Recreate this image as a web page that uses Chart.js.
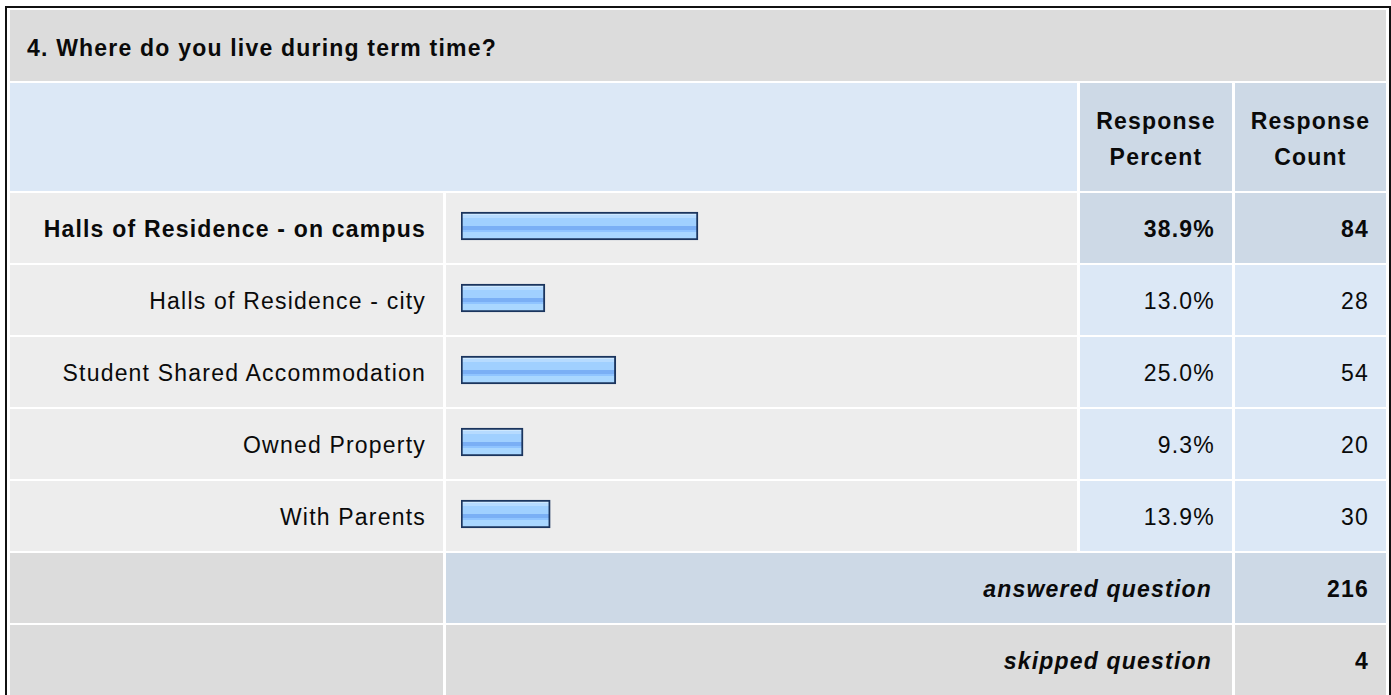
<!DOCTYPE html>
<html>
<head>
<meta charset="utf-8">
<script src="https://cdn.jsdelivr.net/npm/chart.js@4"></script>
<style>
  body { margin: 0; background: #fff; font-family: "Liberation Sans", Arial, sans-serif; }
  #wrap { position: absolute; left: 5px; top: 6px; border: 2px solid #111; border-bottom: none; background: #fff; }
  table { table-layout: fixed; border-collapse: separate; border-spacing: 3px 2px; width: 1382px; }
  td { padding: 0; font-size: 23px; letter-spacing: 1.2px; color: #0a0a0a; vertical-align: middle; white-space: nowrap; }
  .title { background: #dcdcdc; font-weight: bold; padding-left: 17px; padding-top: 25px; height: 46px; vertical-align: top; }
  .head { height: 108px; }
  .headL { background: #dce8f6; }
  .headR { background: #cdd9e6; font-weight: bold; text-align: center; line-height: 36px; padding-top: 4px; }
  tr.row td { height: 68px; padding-top: 2px; }
  .lab { background: #ededed; text-align: right; padding-right: 17px; }
  .bar { background: #ededed; }
  .num { background: #dce8f6; text-align: right; padding-right: 17px; }
  .hl .num { background: #cdd9e6; }
  .hl td { font-weight: bold; }
  .grey { background: #dcdcdc; }
  .sum { font-weight: bold; font-style: italic; text-align: right; padding-right: 20px; }
  .sumN { font-weight: bold; text-align: right; padding-right: 17px; }
  #chartBox { position: absolute; left: 446px; top: 190px; width: 631px; height: 360px; }
</style>
</head>
<body>
<div id="wrap">
  <table id="tbl">
    <colgroup><col style="width:433px"><col style="width:631px"><col style="width:152px"><col style="width:151px"></colgroup>
    <tbody id="body"></tbody>
  </table>
</div>
<div id="chartBox"><canvas id="barChart" width="631" height="360"></canvas></div>
<script>
// Datos de la encuesta
const question = '4. Where do you live during term time?';
const categories = ['Halls of Residence - on campus', 'Halls of Residence - city', 'Student Shared Accommodation', 'Owned Property', 'With Parents'];
const percents = [38.9, 13.0, 25.0, 9.3, 13.9];
const counts = [84, 28, 54, 20, 30];
const answeredCount = 216;
const skippedCount = 4;

// Tabla
var rows = '';
rows += '<tr><td class="title" colspan="4">' + question + '</td></tr>';
rows += '<tr class="head"><td class="headL" colspan="2"></td><td class="headR">Response<br>Percent</td><td class="headR">Response<br>Count</td></tr>';
categories.forEach(function(cat, i) {
    rows += '<tr class="row' + (i === 0 ? ' hl' : '') + '"><td class="lab">' + cat + '</td><td class="bar"></td>' +
        '<td class="num">' + percents[i].toFixed(1) + '%</td><td class="num">' + counts[i] + '</td></tr>';
});
rows += '<tr class="row"><td class="grey"></td><td class="sum" colspan="2" style="background:#cdd9e6">answered question</td><td class="sumN" style="background:#cdd9e6">' + answeredCount + '</td></tr>';
rows += '<tr class="row"><td class="grey"></td><td class="sum grey" colspan="2">skipped question</td><td class="sumN grey">' + skippedCount + '</td></tr>';
document.getElementById('body').innerHTML = rows;

// Relleno de las barras: bandas horizontales que se repiten cada fila (72px)
var pc = document.createElement('canvas');
pc.width = 1; pc.height = 72;
var pctx = pc.getContext('2d');
var bands = [[22, 3, '#cde8ff'], [25, 3, '#b6dbff'], [28, 8, '#a0d0ff'], [36, 4, '#7aaff5'], [40, 2, '#8fc4ff'], [42, 8, '#a9d7ff']];
bands.forEach(function(b) { pctx.fillStyle = b[2]; pctx.fillRect(0, b[0], 1, b[1]); });

var ctx = document.getElementById('barChart').getContext('2d');
var pattern = ctx.createPattern(pc, 'repeat');

var barChart = new Chart(ctx, {
    type: 'bar',
    data: {
        labels: categories,
        datasets: [{
            data: percents,
            base: -1.2,
            backgroundColor: pattern,
            borderColor: '#1b355e',
            borderWidth: 2,
            borderSkipped: false,
            barThickness: 28
        }]
    },
    options: {
        indexAxis: 'y',
        responsive: false,
        animation: false,
        layout: { padding: { left: 15, right: 18, top: 0, bottom: 0 } },
        plugins: { legend: { display: false }, tooltip: { enabled: false } },
        scales: {
            x: { display: false, min: -1.2, max: 100 },
            y: { display: false }
        }
    }
});
</script>
</body>
</html>
